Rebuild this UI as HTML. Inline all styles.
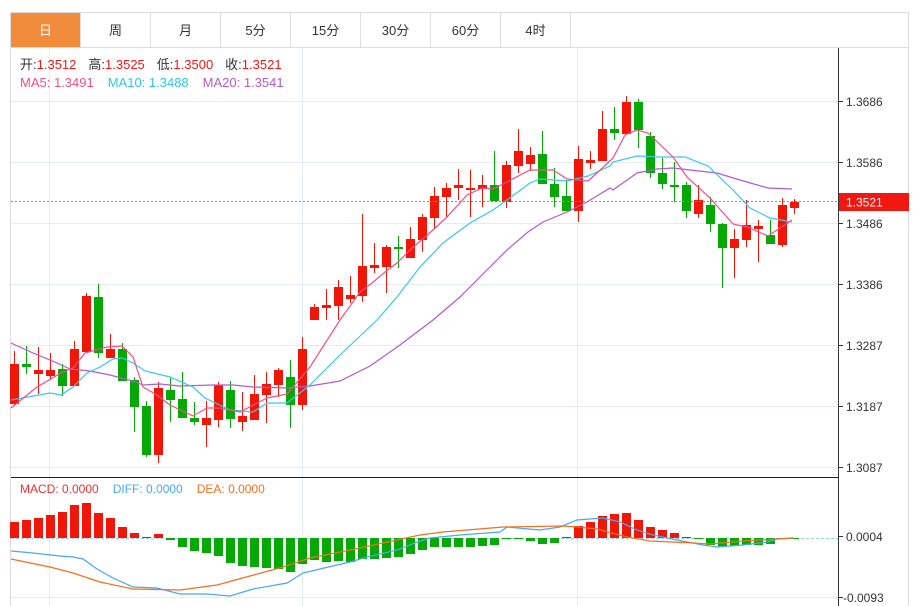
<!DOCTYPE html>
<html><head><meta charset="utf-8">
<style>
html,body{margin:0;padding:0;background:#fff;width:919px;height:606px;overflow:hidden}
svg{display:block}
text{font-family:"Liberation Sans","Noto Sans CJK SC",sans-serif}
</style></head><body>
<svg id="s" width="919" height="606" xmlns="http://www.w3.org/2000/svg">
<rect x="0" y="0" width="919" height="606" fill="#fff"/>
<!-- tab bar -->
<rect x="10.5" y="12.5" width="898" height="35" fill="#fff" stroke="#dcdcdc"/>
<rect x="11" y="13" width="69" height="34" fill="#f08c3c"/>
<g stroke="#dcdcdc"><line x1="80.5" y1="13" x2="80.5" y2="47"/><line x1="150.5" y1="13" x2="150.5" y2="47"/><line x1="220.5" y1="13" x2="220.5" y2="47"/><line x1="290.5" y1="13" x2="290.5" y2="47"/><line x1="360.5" y1="13" x2="360.5" y2="47"/><line x1="430.5" y1="13" x2="430.5" y2="47"/><line x1="500.5" y1="13" x2="500.5" y2="47"/><line x1="570.5" y1="13" x2="570.5" y2="47"/></g>
<g font-size="13" text-anchor="middle" fill="#333">
<text x="45.5" y="35" fill="#fff">日</text><text x="115.5" y="35">周</text><text x="185.5" y="35">月</text><text x="255.5" y="35">5分</text><text x="325.5" y="35">15分</text><text x="395.5" y="35">30分</text><text x="465.5" y="35">60分</text><text x="535.5" y="35">4时</text>
</g>
<!-- frame -->
<line x1="10.5" y1="47" x2="10.5" y2="606" stroke="#dcdcdc"/>
<line x1="908.5" y1="47" x2="908.5" y2="606" stroke="#dcdcdc"/>
<!-- grid -->
<g stroke="#e4ebf1">
<line x1="11" y1="101.5" x2="838" y2="101.5"/><line x1="11" y1="162.5" x2="838" y2="162.5"/><line x1="11" y1="223.5" x2="838" y2="223.5"/><line x1="11" y1="284.5" x2="838" y2="284.5"/><line x1="11" y1="345.5" x2="838" y2="345.5"/><line x1="11" y1="406.5" x2="838" y2="406.5"/><line x1="11" y1="467.5" x2="838" y2="467.5"/>
<line x1="11" y1="597.5" x2="838" y2="597.5"/>
<line x1="49.5" y1="48" x2="49.5" y2="606"/><line x1="302.5" y1="48" x2="302.5" y2="606"/><line x1="577.5" y1="48" x2="577.5" y2="606"/>
</g>
<line x1="11" y1="477.5" x2="839" y2="477.5" stroke="#222"/>
<line x1="838.5" y1="48" x2="838.5" y2="606" stroke="#333"/>
<g stroke="#333"><line x1="839" y1="101.5" x2="843" y2="101.5"/><line x1="839" y1="162.5" x2="843" y2="162.5"/><line x1="839" y1="223.5" x2="843" y2="223.5"/><line x1="839" y1="284.5" x2="843" y2="284.5"/><line x1="839" y1="345.5" x2="843" y2="345.5"/><line x1="839" y1="406.5" x2="843" y2="406.5"/><line x1="839" y1="467.5" x2="843" y2="467.5"/><line x1="839" y1="536.5" x2="843" y2="536.5"/><line x1="839" y1="597.5" x2="843" y2="597.5"/></g>
<g font-size="12" fill="#333">
<text x="846" y="106">1.3686</text><text x="846" y="167">1.3586</text><text x="846" y="228">1.3486</text><text x="846" y="289">1.3386</text><text x="846" y="350">1.3287</text><text x="846" y="411">1.3187</text><text x="846" y="472">1.3087</text>
<text x="846" y="541">0.0004</text><text x="843" y="602">-0.0093</text>
</g>
<!-- legends -->
<g font-size="13">
<text x="20" y="69"><tspan fill="#333">开:</tspan><tspan fill="#f01818">1.3512</tspan><tspan fill="#333" dx="12">高:</tspan><tspan fill="#f01818">1.3525</tspan><tspan fill="#333" dx="12">低:</tspan><tspan fill="#f01818">1.3500</tspan><tspan fill="#333" dx="12">收:</tspan><tspan fill="#f01818">1.3521</tspan></text>
<text x="20" y="87"><tspan fill="#f0508c">MA5: 1.3491</tspan><tspan fill="#30c8dc" dx="14">MA10: 1.3488</tspan><tspan fill="#b05cc8" dx="14">MA20: 1.3541</tspan></text>
<text x="20" y="493" font-size="12"><tspan fill="#f03030">MACD: 0.0000</tspan><tspan fill="#4aa8f0" dx="14">DIFF: 0.0000</tspan><tspan fill="#f07020" dx="14">DEA: 0.0000</tspan></text>
</g>
<line x1="11" y1="538.5" x2="838" y2="538.5" stroke="#8fd4f0" stroke-dasharray="3,2"/>
<g id="c"></g>
<polyline fill="none" stroke="#b05cc8" stroke-width="1.2" points="11,343 33,353 57,363 70,369 90,371 110,375 133,381 143,385 160,384 180,386 213,385 233,385 253,387 287,388 310,386 340,381 370,366 400,345 433,320 460,297 480,277 507,250 528,232 543,222 567,212 587,202 610,188 613,190 637,173 657,169 673,168 690,170 717,173 740,180 768,188 792,189"/>
<polyline fill="none" stroke="#3cc8e0" stroke-width="1.2" points="11,400 50,393 61,395 73,387 87,373 100,367 113,359 122,358 133,363 145,371 170,377 193,387 205,398 230,410 253,412 267,403 287,403 310,385 340,355 377,320 397,297 420,267 443,243 470,223 493,210 507,200 530,183 540,179 567,181 588,176 610,166 613,162 637,156 660,157 685,157 708,166 733,190 750,208 770,218 792,222"/>
<polyline fill="none" stroke="#f0508c" stroke-width="1.2" points="11,408 37,387 61,373 73,368 85,353 107,347 122,346 133,357 143,387 157,395 170,405 193,416 207,408 220,408 240,412 267,398 287,394 310,367 340,320 360,292 372,283 385,272 397,263 410,250 433,230 447,217 467,195 482,188 493,189 507,182 530,170 553,170 567,179 588,181 597,173 613,158 625,135 637,130 648,133 673,157 687,177 710,198 733,224 747,227 768,236 780,228 792,220"/>
<polyline fill="none" stroke="#4aa8f0" stroke-width="1.2" points="11,551 33,553 60,556 73,557 83,559 97,569 113,578 133,587 157,588 180,594 207,594 230,596 253,589 287,583 303,573 320,569 350,562 367,557 397,550 420,541 430,538 460,535 500,532 507,527 540,530 560,527 577,520 603,518 620,522 637,530 653,535 677,540 703,545 717,547 743,545 767,542 777,539 793,538"/>
<polyline fill="none" stroke="#f07020" stroke-width="1.2" points="11,559 50,567 73,573 100,582 133,589 180,590 217,585 250,576 283,567 310,558 350,550 383,543 420,535 443,532 503,527 563,526 577,527 597,529 627,537 650,541 693,543 710,544 743,541 777,539 793,538"/>
<line x1="11" y1="201.5" x2="838" y2="201.5" stroke="#f06060" stroke-dasharray="2,2"/>
<rect x="839" y="193" width="70" height="18" fill="#f01810"/>
<text x="846" y="206.5" font-size="12" fill="#fff">1.3521</text>
</svg>
<script>
var d=[
['r',364,404,351,405],['g',364,367,346,374],['r',370,374,347,394],['r',370,376,353,379],['g',369,386,364,396],
['r',349,386,341,386],['r',296,352,293,352],['g',297,353,284,358],['r',349,358,334,358],['g',349,381,343,381],
['g',380,407,377,432],['g',406,455,401,457],['r',388,455,382,463],['g',390,400,378,422],['g',399,418,372,418],
['g',418,422,402,425],['r',418,425,401,447],['r',385,420,382,427],['g',390,419,381,428],['r',416,422,392,431],
['r',394,420,375,420],['r',384,395,372,423],['r',370,385,368,397],['g',377,405,360,428],['r',349,405,337,410],
['r',307,320,304,320],['r',305,308,289,320],['r',287,306,280,320],['r',295,299,276,303],['r',266,296,214,302],
['r',265,268,243,273],['r',247,267,245,293],['g',247,249,236,268],['r',239,258,227,258],['r',217,240,214,252],
['r',196,218,187,228],['r',188,197,183,217],['r',185,188,169,200],['r',188,190,170,217],['r',185,189,175,207],
['g',185,201,151,201],['r',165,202,161,208],['r',151,166,129,173],['r',155,164,147,171],['g',154,184,131,184],
['g',184,197,168,207],['g',196,211,180,211],['r',159,211,146,222],['r',160,163,151,169],['r',129,161,111,161],
['g',129,133,107,140],['r',102,134,96,134],['g',102,130,99,148],['g',136,173,132,178],['g',173,184,158,189],
['g',185,187,162,202],['g',185,211,182,218],['r',200,214,185,218],['g',205,224,197,232],['g',224,248,223,288],
['r',239,248,229,278],['r',225,240,200,247],['r',226,229,220,262],['g',235,244,220,244],['r',205,245,198,247],
['r',202,208,199,214]];
var m=[522,520,518,515,512,505,503,513,518,527,533,537,534,540,547,551,553,556,563,566,567,568,569,572,564,560,562,561,562,559,559,558,557,554,550,547,547,547,547,546,545,539,539,541,544,543,537,526,522,516,514,513,520,527,530,533,537,539,545,547,546,545,545,544,539,539];
var s='',R='#f01608',G='#06a806';
d.forEach(function(c,i){var x=14.5+12*i,col=c[0]=='r'?R:G;
s+='<line x1="'+x+'" x2="'+x+'" y1="'+c[3]+'" y2="'+c[4]+'" stroke="'+col+'" stroke-width="1"/>';
var h=Math.max(c[2]-c[1],2);s+='<rect x="'+(x-4.5)+'" y="'+c[1]+'" width="9" height="'+h+'" fill="'+col+'"/>';});
m.forEach(function(v,i){var x=14.5+12*i;var col=v<538?R:G;var y=Math.min(v,538),h=Math.max(Math.abs(v-538),1);
s+='<rect x="'+(x-4.5)+'" y="'+y+'" width="9" height="'+h+'" fill="'+col+'"/>';});
document.getElementById('c').innerHTML=s;
</script>
</body></html>
